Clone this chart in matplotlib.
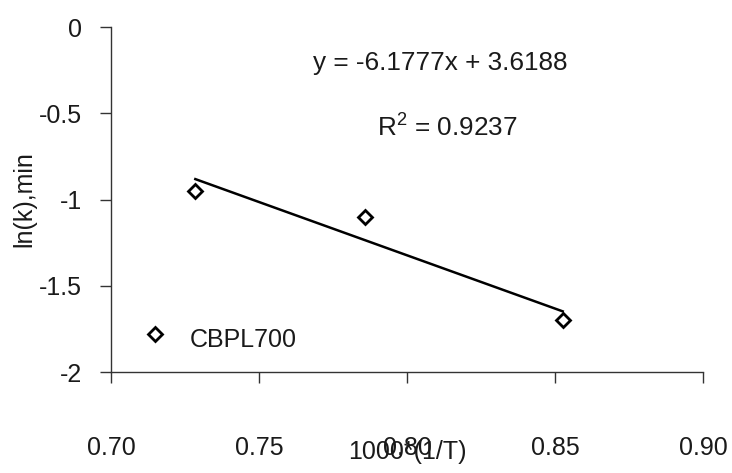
import numpy as np
import matplotlib
matplotlib.use("Agg")
import matplotlib.pyplot as plt

plt.rcParams['font.family'] = ['Liberation Sans', 'DejaVu Sans']
plt.rcParams['mathtext.default'] = 'regular'

# data
inv_t = [0.7285, 0.7858, 0.8526]   # 1000*(1/T)
ln_k = [-0.948, -1.104, -1.700]
slope = -6.1777
intercept = 3.6188
r2 = 0.9237
series_name = "CBPL700"
x_ticks = [0.70, 0.75, 0.80, 0.85, 0.90]
y_ticks = [0, -0.5, -1, -1.5, -2]

txt = '#1a1a1a'
fs = 18

fig = plt.figure(figsize=(7.32, 4.73), dpi=100)
ax = fig.add_axes([0.1516, 0.2135, 0.8088, 0.7294])

ax.plot(inv_t, ln_k, linestyle='none', marker='D', markersize=7,
        markerfacecolor='white', markeredgecolor='black', markeredgewidth=2)

fit_x = np.array([min(inv_t), max(inv_t)])
ax.plot(fit_x, slope * fit_x + intercept, color='black', lw=1.8)

ax.set_xlim(0.70, 0.90)
ax.set_ylim(-2, 0)
ax.set_xticks(x_ticks)
ax.set_xticklabels([f"{v:.2f}" for v in x_ticks])
ax.set_yticks(y_ticks)
ax.set_yticklabels([f"{v:g}" for v in y_ticks])

for s in ['top', 'right']:
    ax.spines[s].set_visible(False)
for s in ['left', 'bottom']:
    ax.spines[s].set_color('#333333')
    ax.spines[s].set_linewidth(1.0)

ax.tick_params(axis='x', direction='out', length=8, width=1.0, color='#333333',
               pad=38, labelsize=fs, labelcolor=txt)
ax.tick_params(axis='y', direction='out', length=8, width=1.0, color='#333333',
               pad=13, labelsize=fs, labelcolor=txt)

ax.set_xlabel("1000*(1/T)", fontsize=fs, color=txt, labelpad=-14)
ax.set_ylabel("ln(k),min", fontsize=fs, color=txt, labelpad=2)

ax.text(0.7682, -0.249, f"y = {slope:.4f}x + {intercept:.4f}", fontsize=18.8,
        color=txt, ha='left', va='baseline')
ax.text(0.7899, -0.636, f"R$^{{2}}$ = {r2:.4f}", fontsize=18.8,
        color=txt, ha='left', va='baseline')

# legend inside the plot, lower left
ax.plot([0.715], [-1.78], linestyle='none', marker='D', markersize=7,
        markerfacecolor='white', markeredgecolor='black', markeredgewidth=2,
        clip_on=False)
ax.text(0.7267, -1.855, series_name, fontsize=fs, color=txt, ha='left', va='baseline')

fig.savefig("out.png", dpi=100)
